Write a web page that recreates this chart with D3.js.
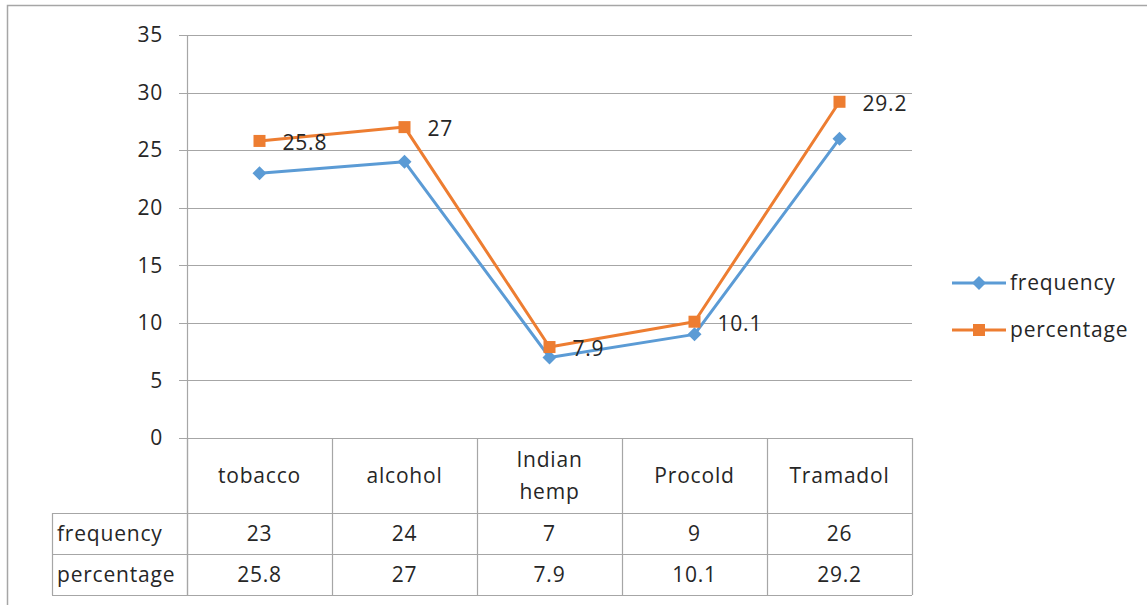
<!DOCTYPE html>
<html>
<head>
<meta charset="utf-8">
<script src="https://cdn.jsdelivr.net/npm/d3@7/dist/d3.min.js"></script>
<style>
  html, body { margin: 0; padding: 0; background: #fff; }
  svg text { font-family: "Open Sans", "Noto Sans", sans-serif; fill: #262626; letter-spacing: 0.8px; }
</style>
</head>
<body>
<svg id="chart" width="1147" height="605"></svg>
<script>
// Substance use: counts and percentages per substance
const categories = ["tobacco", "alcohol", "Indian hemp", "Procold", "Tramadol"];
const frequency = [23, 24, 7, 9, 26];
const percentage = [25.8, 27, 7.9, 10.1, 29.2];
const percentageLabels = ["25.8", "27", "7.9", "10.1", "29.2"];
const yTicks = [0, 5, 10, 15, 20, 25, 30, 35];
const seriesNames = ["frequency", "percentage"];

(function draw() {
  const svg = d3.select("#chart");
  const fontSize = 21;
  const gridColor = "#a6a6a6";
  const colors = { frequency: "#5b9bd5", percentage: "#ed7d31" };

  // outer frame
  svg.append("rect").attr("x", 7.5).attr("y", 5.5).attr("width", 1200).attr("height", 700)
    .attr("fill", "none").attr("stroke", "#a6a6a6").attr("stroke-width", 1.5);

  const pLeft = 187, pRight = 912, pTop = 35, pBottom = 438;
  const x = d3.scaleBand().domain(categories).range([pLeft, pRight]);
  const y = d3.scaleLinear().domain([0, 35]).range([pBottom, pTop]);

  // gridlines + ticks
  const g = svg.append("g");
  g.selectAll("line.grid").data(yTicks).join("line")
    .attr("x1", pLeft - 8).attr("x2", pRight)
    .attr("y1", d => Math.round(y(d)) + 0.5).attr("y2", d => Math.round(y(d)) + 0.5)
    .attr("stroke", gridColor).attr("stroke-width", 1.2);
  g.selectAll("text.tick").data(yTicks).join("text")
    .attr("x", 163).attr("y", d => y(d)).attr("dy", "0.35em")
    .attr("text-anchor", "end").attr("font-size", fontSize).text(d => d);

  // vertical axis line (runs down through the data table)
  const rowTops = [pBottom, 513, 554, 595];
  g.append("line").attr("x1", pLeft + 0.5).attr("x2", pLeft + 0.5).attr("y1", pTop).attr("y2", rowTops[3])
    .attr("stroke", gridColor).attr("stroke-width", 1.2);

  // data table
  const tableLeft = 52;
  const colEdges = categories.map(c => x(c)).concat([pRight]);
  colEdges.forEach(ex => {
    g.append("line").attr("x1", ex + 0.5).attr("x2", ex + 0.5).attr("y1", pBottom).attr("y2", rowTops[3])
      .attr("stroke", gridColor).attr("stroke-width", 1.2);
  });
  g.append("line").attr("x1", tableLeft + 0.5).attr("x2", tableLeft + 0.5).attr("y1", rowTops[1]).attr("y2", rowTops[3])
    .attr("stroke", gridColor).attr("stroke-width", 1.2);
  [rowTops[1], rowTops[2], rowTops[3]].forEach(ry => {
    g.append("line").attr("x1", tableLeft).attr("x2", pRight).attr("y1", ry + 0.5).attr("y2", ry + 0.5)
      .attr("stroke", gridColor).attr("stroke-width", 1.2);
  });

  // header labels
  categories.forEach(c => {
    const words = c === "Indian hemp" ? ["Indian", "hemp"] : [c];
    const cy = (rowTops[0] + rowTops[1]) / 2;
    const lh = 32;
    words.forEach((w, i) => {
      g.append("text").attr("x", x(c) + x.bandwidth() / 2)
        .attr("y", cy + (i - (words.length - 1) / 2) * lh).attr("dy", "0.35em")
        .attr("text-anchor", "middle").attr("font-size", fontSize).text(w);
    });
  });

  // table rows
  const rows = [
    { name: seriesNames[0], values: frequency.map(String) },
    { name: seriesNames[1], values: percentageLabels }
  ];
  rows.forEach((r, i) => {
    const cy = (rowTops[i + 1] + rowTops[i + 2]) / 2;
    g.append("text").attr("x", 57).attr("y", cy).attr("dy", "0.35em")
      .attr("font-size", fontSize).text(r.name);
    r.values.forEach((v, j) => {
      g.append("text").attr("x", x(categories[j]) + x.bandwidth() / 2).attr("y", cy).attr("dy", "0.35em")
        .attr("text-anchor", "middle").attr("font-size", fontSize).text(v);
    });
  });

  // series lines
  const cx = c => x(c) + x.bandwidth() / 2;
  const line = d3.line().x(d => cx(d.c)).y(d => y(d.v));
  const freqData = categories.map((c, i) => ({ c, v: frequency[i] }));
  const pctData = categories.map((c, i) => ({ c, v: percentage[i] }));

  svg.append("path").datum(freqData).attr("d", line).attr("fill", "none")
    .attr("stroke", colors.frequency).attr("stroke-width", 3).attr("stroke-linejoin", "round");
  svg.append("path").datum(pctData).attr("d", line).attr("fill", "none")
    .attr("stroke", colors.percentage).attr("stroke-width", 3).attr("stroke-linejoin", "round");

  const diamond = (sel, px, py) => sel.append("path")
    .attr("d", `M${px},${py - 7}L${px + 7},${py}L${px},${py + 7}L${px - 7},${py}Z`)
    .attr("fill", colors.frequency);
  const square = (sel, px, py) => sel.append("rect")
    .attr("x", px - 6).attr("y", py - 6).attr("width", 12).attr("height", 12)
    .attr("fill", colors.percentage);

  freqData.forEach(d => diamond(svg, cx(d.c), y(d.v)));
  pctData.forEach(d => square(svg, cx(d.c), y(d.v)));

  // value labels on the percentage series
  pctData.forEach((d, i) => {
    svg.append("text").attr("x", cx(d.c) + 23).attr("y", y(d.v) + 2).attr("dy", "0.35em")
      .attr("font-size", fontSize).text(percentageLabels[i]);
  });

  // legend
  const legend = svg.append("g");
  seriesNames.forEach((name, i) => {
    const ly = 283 + i * 47;
    legend.append("line").attr("x1", 952).attr("x2", 1006).attr("y1", ly).attr("y2", ly)
      .attr("stroke", colors[name]).attr("stroke-width", 3);
    if (name === "frequency") diamond(legend, 979, ly); else square(legend, 979, ly);
    legend.append("text").attr("x", 1010).attr("y", ly).attr("dy", "0.35em")
      .attr("font-size", fontSize).text(name);
  });
})();
</script>
</body>
</html>
